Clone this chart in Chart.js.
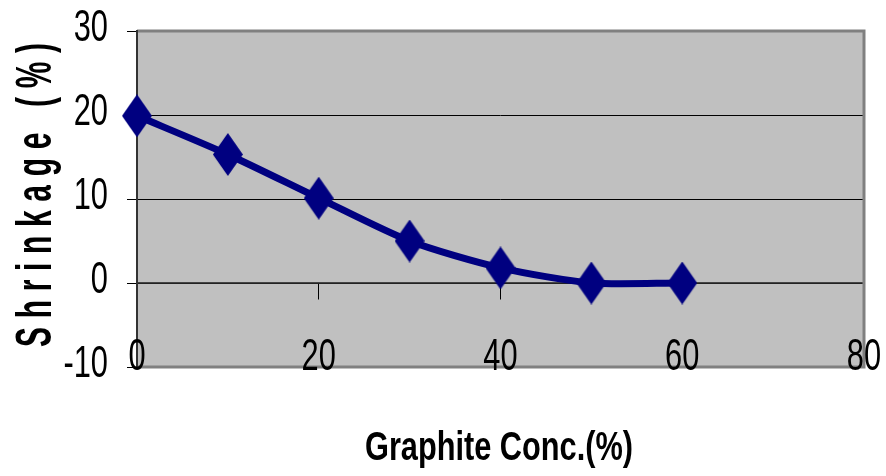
<!DOCTYPE html>
<html>
<head>
<meta charset="utf-8">
<script src="https://cdn.jsdelivr.net/npm/chart.js@4/dist/chart.umd.min.js"></script>
<style>
html,body{margin:0;padding:0;background:#fff;}
#wrap{width:886px;height:476px;position:relative;}
</style>
</head>
<body>
<div id="wrap"><canvas id="c" width="886" height="476"></canvas></div>
<script>
// ---- data ----
const concentrations = [0, 10, 20, 30, 40, 50, 60];
const shrinkage = [19.9, 15.3, 10.1, 5.0, 1.8, 0, 0];
const xTicks = [0, 20, 40, 60, 80];
const yTicks = [-10, 0, 10, 20, 30];
const xTitle = 'Graphite Conc.(%)';
const yTitle = 'Shrinkage (%)';

const FONT = "'Liberation Sans', Arial, sans-serif";
const NAVY = '#000080';

// diamond marker (taller than wide)
function makeDiamond(w, h) {
  const c = document.createElement('canvas');
  c.width = w; c.height = h;
  const g = c.getContext('2d');
  g.fillStyle = NAVY;
  g.beginPath();
  g.moveTo(w / 2, 0);
  g.lineTo(w, h / 2);
  g.lineTo(w / 2, h);
  g.lineTo(0, h / 2);
  g.closePath();
  g.fill();
  return c;
}
const diamond = makeDiamond(30, 43);

// condensed text helper (no narrow font installed -> horizontal scaling)
function narrowText(ctx, text, x, y, sx, align) {
  ctx.save();
  ctx.translate(x, y);
  ctx.scale(sx, 1);
  ctx.textAlign = align;
  ctx.fillText(text, 0, 0);
  ctx.restore();
}

const plotDecor = {
  id: 'plotDecor',
  beforeDraw(chart) {
    const {ctx, chartArea: a} = chart;
    ctx.save();
    ctx.fillStyle = '#C0C0C0';
    ctx.fillRect(a.left, a.top, a.right - a.left, a.bottom - a.top);
    ctx.restore();
  },
  beforeDatasetsDraw(chart) {
    const {ctx, chartArea: a} = chart;
    ctx.save();
    ctx.strokeStyle = '#808080';
    ctx.lineWidth = 3;
    ctx.beginPath();
    ctx.moveTo(a.left, a.top);
    ctx.lineTo(a.right, a.top);
    ctx.lineTo(a.right, a.bottom);
    ctx.lineTo(a.left, a.bottom);
    ctx.stroke();
    ctx.strokeStyle = '#333';
    ctx.lineWidth = 2;
    ctx.beginPath();
    ctx.moveTo(a.left, a.top - 1);
    ctx.lineTo(a.left, a.bottom + 1);
    ctx.stroke();
    ctx.restore();
  },
  afterDraw(chart) {
    const {ctx, chartArea: a} = chart;
    const xs = chart.scales.x, ys = chart.scales.y;
    ctx.save();
    ctx.fillStyle = '#000';
    // tick labels (positions from the chart's scales)
    ctx.font = "44px " + FONT;
    ctx.textBaseline = 'alphabetic';
    xTicks.forEach(v => {
      narrowText(ctx, String(v), xs.getPixelForValue(v), a.bottom + 3, 0.7, 'center');
    });
    ctx.textBaseline = 'middle';
    yTicks.forEach(v => {
      narrowText(ctx, String(v), a.left - 29, ys.getPixelForValue(v) - 2, 0.7, 'right');
    });
    // x title
    ctx.font = "bold 40px " + FONT;
    ctx.textBaseline = 'alphabetic';
    const wx = ctx.measureText(xTitle).width;
    narrowText(ctx, xTitle, 499, 460, 268 / wx, 'center');
    // y title (rotated, condensed, letter-spaced)
    ctx.translate(51, 195);
    ctx.rotate(-Math.PI / 2);
    ctx.font = "bold 50px " + FONT;
    const sx = 0.6;
    const chars = Array.from(yTitle);
    const widths = chars.map(ch => ctx.measureText(ch).width * sx);
    const total = widths.reduce((s, v) => s + v, 0);
    const target = 304;
    const gap = (target - total) / (chars.length - 1);
    let x = -target / 2;
    chars.forEach((ch, i) => {
      narrowText(ctx, ch, x, 0, sx, 'left');
      x += widths[i] + gap;
    });
    ctx.restore();
  }
};

new Chart(document.getElementById('c'), {
  type: 'line',
  data: {
    datasets: [{
      data: concentrations.map((c, i) => ({x: c, y: shrinkage[i]})),
      borderColor: NAVY,
      backgroundColor: NAVY,
      borderWidth: 7,
      tension: 0.25,
      pointStyle: diamond,
      clip: false
    }]
  },
  options: {
    responsive: false,
    animation: false,
    devicePixelRatio: 1,
    layout: {padding: {left: 0, top: 31, right: 22, bottom: 109}},
    plugins: {legend: {display: false}, tooltip: {enabled: false}},
    scales: {
      x: {
        type: 'linear',
        min: 0, max: 80,
        position: {y: 0},
        afterBuildTicks(scale) { scale.ticks = xTicks.map(v => ({value: v})); },
        ticks: {display: false},
        grid: {drawOnChartArea: false, drawTicks: true, tickLength: 16, tickColor: '#000', tickWidth: 1},
        border: {display: true, color: '#444', width: 1.5}
      },
      y: {
        type: 'linear',
        min: -10, max: 30,
        afterBuildTicks(scale) { scale.ticks = yTicks.map(v => ({value: v})); },
        afterFit(scale) { scale.width = 137; },
        ticks: {display: false},
        grid: {
          color: ctx => (ctx.tick && (ctx.tick.value === 30 || ctx.tick.value === -10)) ? 'rgba(0,0,0,0)' : '#000',
          lineWidth: 1,
          drawTicks: true,
          tickLength: 10,
          tickColor: '#000'
        },
        border: {display: false}
      }
    }
  },
  plugins: [plotDecor]
});
</script>
</body>
</html>
